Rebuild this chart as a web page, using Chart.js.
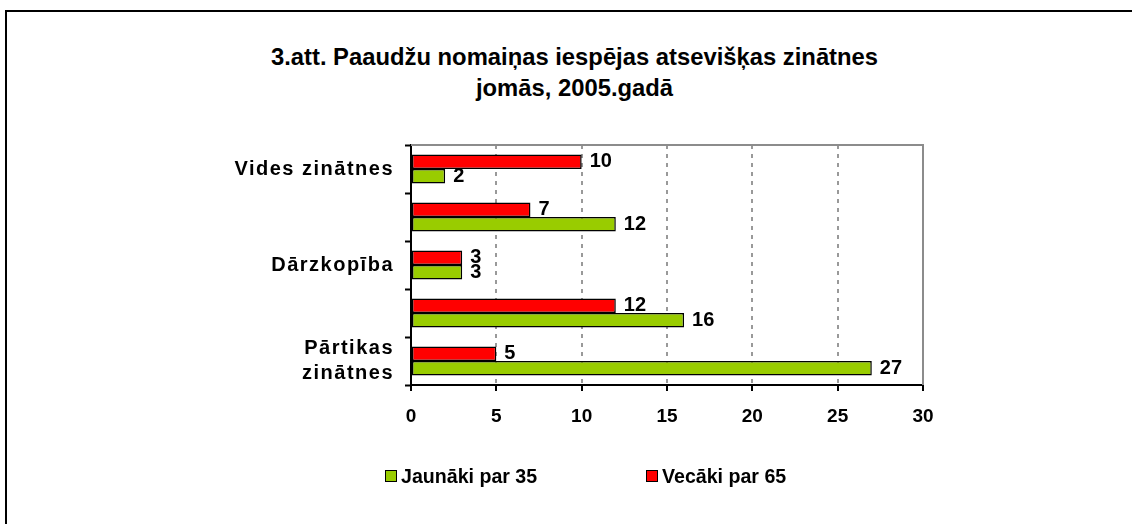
<!DOCTYPE html>
<html>
<head>
<meta charset="utf-8">
<script src="https://cdn.jsdelivr.net/npm/chart.js@4.4.1/dist/chart.umd.min.js"></script>
<style>
    html, body { margin: 0; padding: 0; background: #fff; }
    body { width: 1132px; height: 524px; position: relative; overflow: hidden; font-family: "Liberation Sans", Arial, sans-serif; }
    .frame { position: absolute; left: 5px; top: 10px; width: 1200px; height: 600px; border-left: 2px solid #000; border-top: 2px solid #000; }
    .chart-wrap { position: absolute; left: 0; top: 0; width: 1132px; height: 524px; }
    .title { position: absolute; left: 0; top: 41px; width: 1149px; text-align: center; font-weight: bold; font-size: 23.8px; line-height: 31px; color: #000; }
    .legend { position: absolute; top: 464px; font-weight: bold; font-size: 19.6px; line-height: 24px; color: #000; display: flex; align-items: center; }
    .legend i { display: inline-block; width: 10px; height: 10px; border: 1.5px solid #000; margin-right: 4px; }
</style>
</head>
<body>
<div class="frame"></div>
<div class="title">3.att. Paaudžu nomaiņas iespējas atsevišķas zinātnes<br>jomās, 2005.gadā</div>
<div class="chart-wrap"><canvas id="ageChart"></canvas></div>
<div class="legend" id="legYoung" style="left:385px"><i style="background:#99CC00"></i>Jaunāki par 35</div>
<div class="legend" id="legOld" style="left:646px"><i style="background:#FF0000"></i>Vecāki par 65</div>

<script>
// Chart data
const categories = ['Vides zinātnes', '', 'Dārzkopība', '', ['Pārtikas', 'zinātnes']];
const olderThan65 = [10, 7, 3, 12, 5];
const youngerThan35 = [2, 12, 3, 16, 27];
const xTicks = [0, 5, 10, 15, 20, 25, 30];

const RED = '#FF0000';
const GREEN = '#99CC00';
const GRID_GRAY = '#999999';
const FONT = '"Liberation Sans", Arial, sans-serif';

// Value labels at the end of each bar
const valueLabels = {
    id: 'valueLabels',
    afterDatasetsDraw(chart) {
        const ctx = chart.ctx;
        ctx.save();
        ctx.letterSpacing = '0px';
        ctx.font = 'bold 20px ' + FONT;
        ctx.fillStyle = '#000';
        ctx.textAlign = 'left';
        ctx.textBaseline = 'middle';
        chart.data.datasets.forEach((ds, i) => {
            chart.getDatasetMeta(i).data.forEach((bar, j) => {
                ctx.fillText(ds.data[j], bar.x + 8, bar.y);
            });
        });
        ctx.restore();
    }
};

// Gray top and right border of the plot area
const plotFrame = {
    id: 'plotFrame',
    beforeDatasetsDraw(chart) {
        const a = chart.chartArea;
        const ctx = chart.ctx;
        ctx.save();
        ctx.strokeStyle = '#8c8c8c';
        ctx.lineWidth = 2;
        ctx.beginPath();
        ctx.moveTo(a.left, a.top);
        ctx.lineTo(a.right, a.top);
        ctx.lineTo(a.right, a.bottom);
        ctx.stroke();
        ctx.restore();
    }
};

// Wider letter spacing on the category labels only
const spacedCategoryLabels = {
    id: 'spacedCategoryLabels',
    beforeDraw(chart) {
        const scale = chart.scales.y;
        if (!scale || scale._spaced) return;
        const orig = scale.drawLabels;
        scale.drawLabels = function(area) {
            const c = this.ctx;
            c.save();
            c.letterSpacing = '1.5px';
            orig.call(this, area);
            c.restore();
        };
        scale._spaced = true;
    }
};

document.addEventListener('DOMContentLoaded', function() {
    const ctx = document.getElementById('ageChart');

    const chart = new Chart(ctx, {
        type: 'bar',
        data: {
            labels: categories,
            datasets: [
                {
                    label: 'Vecāki par 65',
                    data: olderThan65,
                    backgroundColor: RED,
                    borderColor: '#000',
                    borderWidth: 1.5,
                    borderSkipped: false,
                    categoryPercentage: 0.6,
                    barPercentage: 1.0
                },
                {
                    label: 'Jaunāki par 35',
                    data: youngerThan35,
                    backgroundColor: GREEN,
                    borderColor: '#000',
                    borderWidth: 1.5,
                    borderSkipped: false,
                    categoryPercentage: 0.6,
                    barPercentage: 1.0
                }
            ]
        },
        options: {
            indexAxis: 'y',
            responsive: true,
            maintainAspectRatio: false,
            animation: false,
            layout: {
                padding: { left: 0, right: 209, top: 145, bottom: 79 }
            },
            plugins: {
                legend: { display: false },
                title: { display: false },
                tooltip: { enabled: false }
            },
            scales: {
                x: {
                    min: 0,
                    max: 30,
                    afterFit: function(scale) { scale.height = 60; },
                    afterBuildTicks: function(scale) {
                        scale.ticks = xTicks.map(v => ({ value: v }));
                    },
                    ticks: {
                        color: '#000',
                        padding: 14,
                        font: { family: FONT, size: 19, weight: 'bold' }
                    },
                    grid: {
                        color: GRID_GRAY,
                        lineWidth: 2,
                        tickLength: 6,
                        tickColor: '#000',
                        tickWidth: 2
                    },
                    border: { color: '#000', width: 2, dash: [4, 5] }
                },
                y: {
                    afterFit: function(scale) { scale.width = 411; },
                    ticks: {
                        color: '#000',
                        padding: 11,
                        autoSkip: false,
                        font: { family: FONT, size: 20, weight: 'bold', lineHeight: 1.25 }
                    },
                    grid: {
                        drawOnChartArea: false,
                        tickLength: 6,
                        tickColor: '#000',
                        tickWidth: 2
                    },
                    border: { color: '#000', width: 2 }
                }
            }
        },
        plugins: [spacedCategoryLabels, plotFrame, valueLabels]
    });
    chart.draw();
});
</script>
</body>
</html>
